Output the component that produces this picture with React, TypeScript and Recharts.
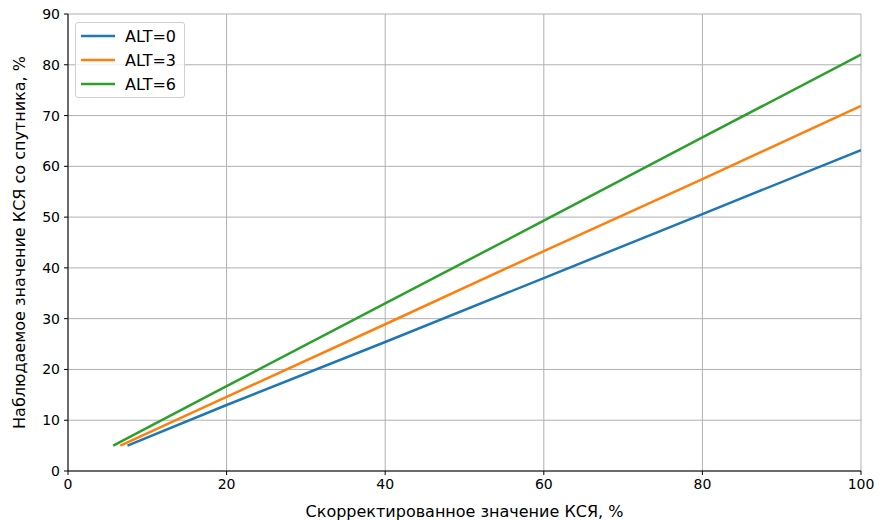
import React from 'react';
import { LineChart, Line, XAxis, YAxis, CartesianGrid } from 'recharts';

// Corrected vs observed values (%), one array per altitude setting
const alt0X = [7.5, 20, 40, 60, 80, 100];
const alt0Y = [5.0, 13.0, 25.4, 38.0, 50.6, 63.2];
const alt3X = [6.6, 20, 40, 60, 80, 100];
const alt3Y = [5.0, 14.6, 28.9, 43.3, 57.5, 71.9];
const alt6X = [5.7, 20, 40, 60, 80, 100];
const alt6Y = [5.0, 16.7, 33.0, 49.3, 65.7, 82.0];

const seriesNames = ['ALT=0', 'ALT=3', 'ALT=6'];
const seriesColors = ['#1f77b4', '#ff7f0e', '#2ca02c'];

const xTicks = [0, 20, 40, 60, 80, 100];
const yTicks = [0, 10, 20, 30, 40, 50, 60, 70, 80, 90];

const xLabel = 'Скорректированное значение КСЯ, %';
const yLabel = 'Наблюдаемое значение КСЯ со спутника, %';

const toPoints = (xs: number[], ys: number[]) => xs.map((x, i) => ({ x, y: ys[i] }));

const series = [
  toPoints(alt0X, alt0Y),
  toPoints(alt3X, alt3Y),
  toPoints(alt6X, alt6Y),
];

const FONT = 'DejaVu Sans, sans-serif';

const LegendBox = () => (
  <div
    style={{
      position: 'absolute',
      left: 75,
      top: 22,
      border: '1px solid #d0d0d0',
      borderRadius: 3,
      background: 'rgba(255,255,255,0.8)',
      padding: '1px 8px 1px 5px',
      fontFamily: FONT,
      fontSize: 16,
      color: '#000',
      whiteSpace: 'nowrap',
    }}
  >
    {seriesNames.map((name, i) => (
      <div key={name} style={{ display: 'flex', alignItems: 'center', height: 24 }}>
        <svg width={34} height={4} style={{ marginRight: 10 }}>
          <line x1={0} y1={2} x2={34} y2={2} stroke={seriesColors[i]} strokeWidth={2.5} />
        </svg>
        <span>{name}</span>
      </div>
    ))}
  </div>
);

const YLabel = (props: any) => {
  const vb = props.viewBox || {};
  const cx = 19;
  const cy = vb.y + vb.height / 2;
  return (
    <text
      x={cx}
      y={cy}
      transform={`rotate(-90, ${cx}, ${cy})`}
      textAnchor="middle"
      dominantBaseline="central"
      fontFamily={FONT}
      fontSize={16}
      fill="#000"
    >
      {yLabel}
    </text>
  );
};

const XLabel = (props: any) => {
  const vb = props.viewBox || {};
  const cx = vb.x + vb.width / 2;
  return (
    <text
      x={cx}
      y={511}
      textAnchor="middle"
      dominantBaseline="central"
      fontFamily={FONT}
      fontSize={16}
      fill="#000"
    >
      {xLabel}
    </text>
  );
};

const tickStyle = { fontFamily: FONT, fontSize: 14, fill: '#000' };

export default function App() {
  return (
    <div style={{ position: 'absolute', left: 0, top: 0, width: 879, height: 520, background: '#fff' }}>
      <LineChart width={879} height={520} margin={{ top: 14, right: 18, bottom: 0, left: 0 }}>
        <CartesianGrid xAxisId="main" yAxisId="main" stroke="#b0b0b0" strokeWidth={1} />
        <XAxis
          xAxisId="main"
          type="number"
          dataKey="x"
          domain={[0, 100]}
          ticks={xTicks}
          allowDataOverflow
          height={49}
          tick={tickStyle}
          tickSize={4}
          tickMargin={4}
          axisLine={{ stroke: '#000', strokeWidth: 1 }}
          tickLine={{ stroke: '#000' }}
          label={<XLabel />}
        />
        <XAxis
          xAxisId="top"
          orientation="top"
          type="number"
          domain={[0, 100]}
          height={0}
          tick={false}
          tickLine={false}
          axisLine={{ stroke: '#000', strokeWidth: 1 }}
        />
        <YAxis
          yAxisId="main"
          type="number"
          domain={[0, 90]}
          ticks={yTicks}
          allowDataOverflow
          width={68}
          tick={tickStyle}
          tickSize={4}
          tickMargin={4}
          axisLine={{ stroke: '#000', strokeWidth: 1 }}
          tickLine={{ stroke: '#000' }}
          label={<YLabel />}
        />
        <YAxis
          yAxisId="right"
          orientation="right"
          type="number"
          domain={[0, 90]}
          width={0}
          tick={false}
          tickLine={false}
          axisLine={{ stroke: '#000', strokeWidth: 1 }}
        />
        {series.map((data, i) => (
          <Line
            key={seriesNames[i]}
            xAxisId="main"
            yAxisId="main"
            data={data}
            dataKey="y"
            name={seriesNames[i]}
            type="linear"
            stroke={seriesColors[i]}
            strokeWidth={2.5}
            dot={false}
            activeDot={false}
            isAnimationActive={false}
          />
        ))}
      </LineChart>
      <LegendBox />
    </div>
  );
}
